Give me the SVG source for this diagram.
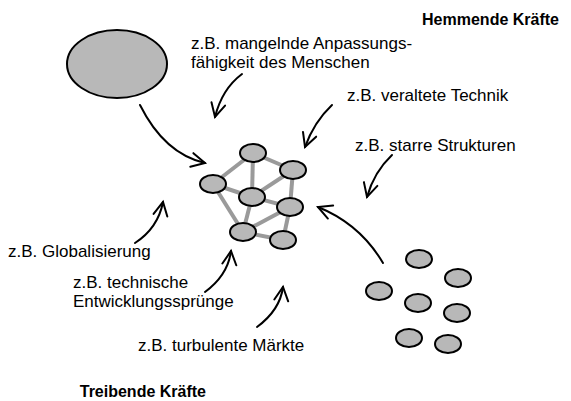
<svg xmlns="http://www.w3.org/2000/svg" width="571" height="401" viewBox="0 0 571 401">
  <style>
    .lbl { font-family: "Liberation Sans", Arial, sans-serif; font-size: 17px; fill: #000; }
    .head { font-family: "Liberation Sans", Arial, sans-serif; font-size: 16px; font-weight: bold; fill: #000; }
    .node { fill: #b8b8b8; stroke: #000; stroke-width: 2; }
    .edge { stroke: #9a9a9a; stroke-width: 4; fill: none; }
    .force { fill: none; stroke: #000; stroke-width: 2; stroke-linecap: round; marker-end: url(#vhead); }
  </style>
  <defs>
    <marker id="vhead" markerUnits="userSpaceOnUse" viewBox="-16 -10 20 20" refX="0" refY="0" markerWidth="20" markerHeight="20" orient="auto">
      <path d="M-13.5,-7 L0,0 L-13.5,7" fill="none" stroke="#000" stroke-width="2" stroke-linecap="round" stroke-linejoin="miter"/>
    </marker>
  </defs>

  <rect width="571" height="401" fill="#fff"/>

  <!-- headings -->
  <text class="head" x="559" y="25" text-anchor="end">Hemmende Kräfte</text>
  <text class="head" x="206" y="397" text-anchor="end">Treibende Kräfte</text>

  <!-- large single element -->
  <g id="solo">
    <ellipse class="node" cx="117" cy="64" rx="50" ry="34"/>
  </g>

  <!-- network links -->
  <g id="network-links">
    <line class="edge" x1="253" y1="153" x2="213" y2="184"/>
    <line class="edge" x1="253" y1="153" x2="252" y2="197"/>
    <line class="edge" x1="253" y1="153" x2="293" y2="170"/>
    <line class="edge" x1="293" y1="170" x2="252" y2="197"/>
    <line class="edge" x1="293" y1="170" x2="290" y2="207"/>
    <line class="edge" x1="213" y1="184" x2="252" y2="197"/>
    <line class="edge" x1="213" y1="184" x2="243" y2="232"/>
    <line class="edge" x1="252" y1="197" x2="290" y2="207"/>
    <line class="edge" x1="252" y1="197" x2="243" y2="232"/>
    <line class="edge" x1="290" y1="207" x2="243" y2="232"/>
    <line class="edge" x1="290" y1="207" x2="283" y2="240"/>
    <line class="edge" x1="243" y1="232" x2="283" y2="240"/>
  </g>

  <!-- network nodes -->
  <g id="n-top"><ellipse class="node" cx="253" cy="153" rx="13" ry="9"/></g>
  <g id="n-left"><ellipse class="node" cx="213" cy="184" rx="13" ry="9"/></g>
  <g id="n-upright"><ellipse class="node" cx="293" cy="170" rx="13" ry="9"/></g>
  <g id="n-center"><ellipse class="node" cx="252" cy="197" rx="13" ry="9"/></g>
  <g id="n-midright"><ellipse class="node" cx="290" cy="207" rx="13" ry="9"/></g>
  <g id="n-botleft"><ellipse class="node" cx="243" cy="232" rx="13" ry="9"/></g>
  <g id="n-botright"><ellipse class="node" cx="283" cy="240" rx="13" ry="9"/></g>

  <!-- loose cluster -->
  <g id="c1"><ellipse class="node" cx="419" cy="259" rx="13" ry="9"/></g>
  <g id="c2"><ellipse class="node" cx="458" cy="278" rx="13" ry="9"/></g>
  <g id="c3"><ellipse class="node" cx="379" cy="291" rx="13" ry="9"/></g>
  <g id="c4"><ellipse class="node" cx="418" cy="303" rx="13" ry="9"/></g>
  <g id="c5"><ellipse class="node" cx="457" cy="313" rx="13" ry="9"/></g>
  <g id="c6"><ellipse class="node" cx="409" cy="338" rx="13" ry="9"/></g>
  <g id="c7"><ellipse class="node" cx="448" cy="344" rx="13" ry="9"/></g>

  <!-- force arrows -->
  <g id="connectors">
    <path class="force" d="M140,105 C150,125 170,155 205,163"/>
    <path class="force" d="M242,74 Q222,89 215,117"/>
    <path class="force" d="M332,105 Q314,122 305,147"/>
    <path class="force" d="M392,155 Q374,172 367,197"/>
    <path class="force" d="M383,263 Q360,224 318,207"/>
    <path class="force" d="M135,243 Q158,228 163,202"/>
    <path class="force" d="M205,292 Q228,275 231,251"/>
    <path class="force" d="M257,327 Q280,310 283,287"/>
  </g>

  <!-- labels -->
  <g id="labels">
    <text class="lbl" x="191" y="49">z.B. mangelnde Anpassungs-</text>
    <text class="lbl" x="191" y="68">fähigkeit des Menschen</text>
    <text class="lbl" x="347" y="101">z.B. veraltete Technik</text>
    <text class="lbl" x="355" y="151">z.B. starre Strukturen</text>
    <text class="lbl" x="8" y="257">z.B. Globalisierung</text>
    <text class="lbl" x="73" y="288">z.B. technische</text>
    <text class="lbl" x="73" y="307">Entwicklungssprünge</text>
    <text class="lbl" x="138" y="351">z.B. turbulente Märkte</text>
  </g>
</svg>
